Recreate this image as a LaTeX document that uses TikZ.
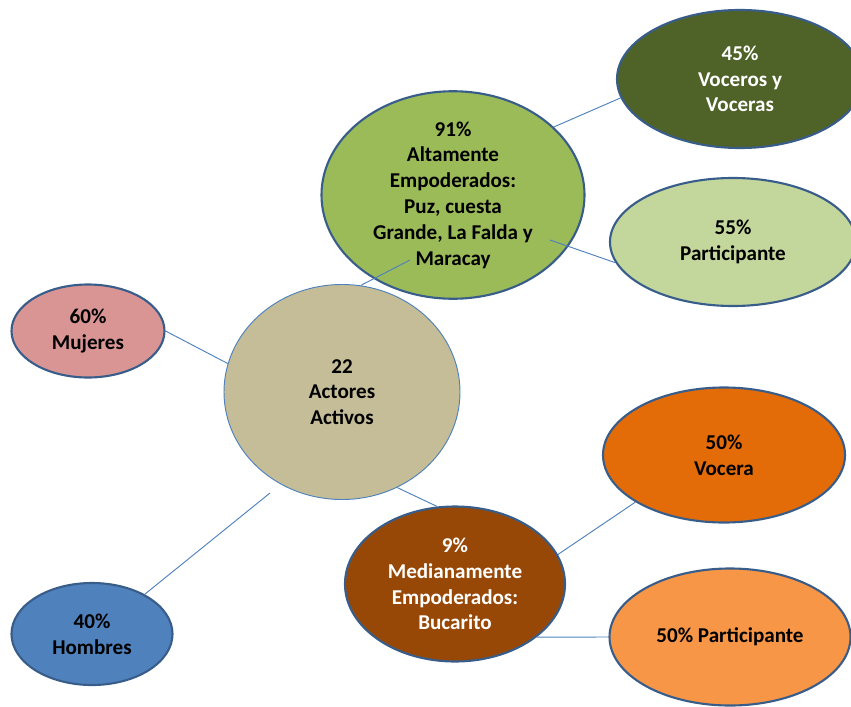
\documentclass[tikz,border=0pt]{standalone}
\usepackage{fontspec}
\setmainfont{Carlito}
\usetikzlibrary{shapes,arrows,positioning}
\definecolor{edgeblue}{HTML}{385D8A}
\definecolor{lineblue}{HTML}{4F81BD}
\definecolor{mujeres}{HTML}{D99594}
\definecolor{hombres}{HTML}{4F81BD}
\definecolor{actores}{HTML}{C4BD97}
\definecolor{alta}{HTML}{9BBB59}
\definecolor{voceros}{HTML}{4F6228}
\definecolor{partic}{HTML}{C3D69B}
\definecolor{media}{HTML}{984806}
\definecolor{vocera}{HTML}{E36C09}
\definecolor{partic2}{HTML}{F79646}
\tikzset{bubble/.style={ellipse, draw=edgeblue, line width=1.8pt, align=center, inner sep=0pt,
 font=\bfseries\fontsize{18}{22}\selectfont}}
\tikzset{centre/.style={ellipse, draw=lineblue, line width=0.8pt, align=center, inner sep=0pt,
 font=\bfseries\fontsize{18}{22}\selectfont}}
\tikzset{line/.style={draw=lineblue, line width=0.8pt}}

\begin{document}
\begin{tikzpicture}[x=0.03cm,y=-0.03cm]
        \useasboundingbox (0,0) rectangle (851,706);
        \node[centre, fill=actores, minimum width=7.08cm, minimum height=6.45cm] (act) at (342,392) {22\\Actores\\Activos};
        \node[bubble, fill=mujeres, minimum width=4.59cm, minimum height=2.79cm] (muj) at (88,331) {60\%\\Mujeres};
        \node[bubble, fill=hombres, minimum width=4.83cm, minimum height=3.06cm] (hom) at (92,634) {40\%\\Hombres};
        \node[bubble, fill=alta, minimum width=7.89cm, minimum height=5.67cm] (alt) at (453,195) {91\%\\Altamente\\Empoderados:\\Puz, cuesta\\Grande, La Falda y\\Maracay};
        \node[bubble, fill=voceros, text=white, minimum width=7.38cm, minimum height=4.14cm] (voc) at (740,79) {45\%\\Voceros y\\Voceras};
        \node[bubble, fill=partic, minimum width=7.38cm, minimum height=3.84cm] (par) at (733,242) {55\%\\Participante};
        \node[bubble, fill=media, text=white, minimum width=6.6cm, minimum height=4.65cm] (med) at (455,584) {9\%\\Medianamente\\Empoderados:\\Bucarito};
        \node[bubble, fill=vocera, minimum width=7.26cm, minimum height=4.05cm] (vca) at (724,455) {50\%\\Vocera};
        \node[bubble, fill=partic2, minimum width=7.23cm, minimum height=4.11cm] (pa2) at (730,637) {50\% Participante};

        \coordinate (homtip) at (270,493);
        \coordinate (alttip) at (410,260);
        \coordinate (alttip2) at (550,240);

        \path[line] (muj.east)  --          (act.166);
        \path[line] (hom.37)    --          (homtip);
        \path[line] (act.80)    --          (alttip);
        \path[line] (alt.34)    --          (voc.189);
        \path[line] (alttip2)   --          (par.190);
        \path[line] (act.-60)   --          (med.103);
        \path[line] (med.16)    --          (vca.208);
        \path[line] (med.-33.5) --          (pa2.west);
      \end{tikzpicture}
\end{document}
